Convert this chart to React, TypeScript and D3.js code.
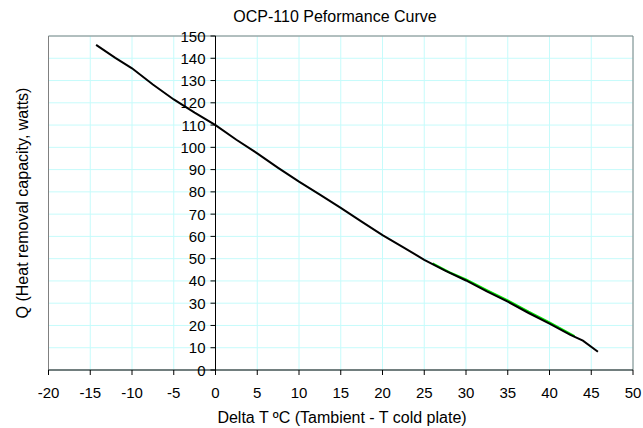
import React, { useEffect, useRef } from "react";
import * as d3 from "d3";

const title = "OCP-110 Peformance Curve";
const xTitle = "Delta T ºC (Tambient - T cold plate)";
const yTitle = "Q (Heat removal capacity, watts)";

const xTicks = [-20, -15, -10, -5, 0, 5, 10, 15, 20, 25, 30, 35, 40, 45, 50];
const yTicks = [0, 10, 20, 30, 40, 50, 60, 70, 80, 90, 100, 110, 120, 130, 140, 150];

const curveX = [-14.3, -12, -10, -7.5, -5, -2.5, 0, 2.5, 5, 7.5, 10, 12.5, 15, 17.5, 20, 22.5, 25, 27.5, 30, 32.5, 35, 37.5, 40, 42.5, 44, 45.8];
const curveQ = [146, 140.2, 135.5, 128.2, 121.5, 115.6, 110, 103.4, 97.3, 90.8, 84.6, 78.8, 72.8, 66.6, 60.6, 55.1, 49.5, 44.6, 40.2, 35.3, 30.7, 25.6, 20.8, 15.8, 13.2, 8.2];

const fitX = [26, 28, 30, 32.5, 35, 37.5, 40, 43];
const fitQ = [47.9, 43.9, 40.7, 35.9, 31.3, 26.2, 21.4, 15.2];

export default function App() {
  const ref = useRef<SVGSVGElement>(null);
  useEffect(() => {
    const svg = d3.select(ref.current);
    svg.selectAll("*").remove();
    const L = 48.5, R = 633, T = 36, B = 370;
    const x = d3.scaleLinear().domain([-20, 50]).range([L, R]);
    const y = d3.scaleLinear().domain([0, 150]).range([B, T]);
    const font = "'Liberation Sans', Arial, sans-serif";

    svg.append("rect").attr("width", 643).attr("height", 428).attr("fill", "#fff");

    const g = svg.append("g");
    g.selectAll(".vg").data(xTicks).enter().append("line")
      .attr("x1", d => x(d)).attr("x2", d => x(d)).attr("y1", T).attr("y2", B)
      .attr("stroke", "#c6fbfb").attr("stroke-width", 1);
    g.selectAll(".hg").data(yTicks).enter().append("line")
      .attr("x1", L).attr("x2", R).attr("y1", d => y(d)).attr("y2", d => y(d))
      .attr("stroke", "#c6fbfb").attr("stroke-width", 1);

    // frame
    g.append("path").attr("d", `M${L},${B}V${T}H${R}V${B}`).attr("fill", "none").attr("stroke", "#808080").attr("stroke-width", 1);

    // x axis
    g.append("line").attr("x1", L).attr("x2", R).attr("y1", B).attr("y2", B).attr("stroke", "#000");
    g.selectAll(".xt").data(xTicks).enter().append("line")
      .attr("x1", d => x(d)).attr("x2", d => x(d)).attr("y1", B).attr("y2", B + 5).attr("stroke", "#000");
    g.selectAll(".xl").data(xTicks).enter().append("text")
      .attr("x", d => x(d)).attr("y", 398).attr("text-anchor", "middle")
      .attr("font-family", font).attr("font-size", 15).attr("fill", "#000").text(d => d);

    // y axis at x=0
    const x0 = x(0);
    g.append("line").attr("x1", x0).attr("x2", x0).attr("y1", T).attr("y2", B + 5).attr("stroke", "#000");
    g.selectAll(".yt").data(yTicks).enter().append("line")
      .attr("x1", x0 - 5).attr("x2", x0).attr("y1", d => y(d)).attr("y2", d => y(d)).attr("stroke", "#000");
    g.selectAll(".yl").data(yTicks).enter().append("text")
      .attr("x", x0 - 10).attr("y", d => y(d) + 5.5).attr("text-anchor", "end")
      .attr("font-family", font).attr("font-size", 15).attr("fill", "#000").text(d => d);

    const line = d3.line<[number, number]>().x(d => x(d[0])).y(d => y(d[1])).curve(d3.curveLinear);
    const fitData = fitX.map((v, i) => [v, fitQ[i]] as [number, number]);
    const curveData = curveX.map((v, i) => [v, curveQ[i]] as [number, number]);
    g.append("path").attr("d", line(fitData)).attr("fill", "none").attr("stroke", "#00e000").attr("stroke-width", 2);
    g.append("path").attr("d", line(curveData)).attr("fill", "none").attr("stroke", "#000").attr("stroke-width", 2);

    svg.append("text").attr("x", 335).attr("y", 21.5).attr("text-anchor", "middle")
      .attr("font-family", font).attr("font-size", 16).text(title);
    svg.append("text").attr("x", 342).attr("y", 423).attr("text-anchor", "middle")
      .attr("font-family", font).attr("font-size", 16).text(xTitle);
    svg.append("text").attr("transform", `translate(28,${(T + B) / 2}) rotate(-90)`).attr("text-anchor", "middle")
      .attr("font-family", font).attr("font-size", 16).text(yTitle);
  }, []);
  return (
    <svg ref={ref} width={643} height={428} style={{ position: "absolute", left: 0, top: 0 }} />
  );
}
